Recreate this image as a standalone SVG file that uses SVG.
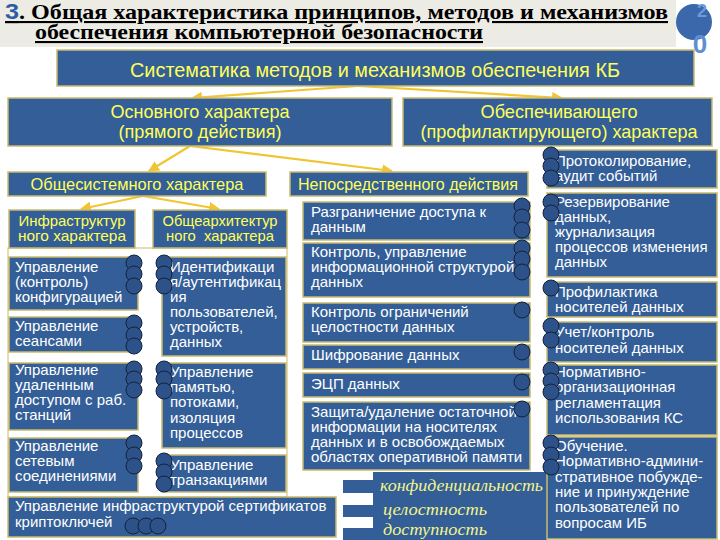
<svg xmlns="http://www.w3.org/2000/svg" width="720" height="540" viewBox="0 0 720 540">
<defs>
<marker id="ah" viewBox="0 0 10 10" refX="9" refY="5" markerWidth="5" markerHeight="5" orient="auto-start-reverse">
<path d="M0,0 L10,5 L0,10 z" fill="#f0c531"/>
</marker>
<style>
.box{fill:#335e97;stroke:#c9ba6e;stroke-width:1.5}
.hd{fill:#ffff59;font-family:"Liberation Sans Narrow","Liberation Sans",Arial,sans-serif}
.tx{fill:#ffffff;font-family:"Liberation Sans",Arial,sans-serif;font-size:15px}
.dot{fill:#2d5289;stroke:#15223a;stroke-width:1}
.con{stroke:#f0c531;stroke-width:2.2;fill:none;marker-end:url(#ah)}
.lg{fill:#f4f48a;font-family:"Liberation Serif","Times New Roman",serif;font-style:italic;font-size:16px}
</style>
</defs>
<rect x="0" y="0" width="720" height="540" fill="#ffffff"/>
<g id="title">
<rect x="0" y="0" width="676" height="47" fill="#ecebe4"/>
<text x="5" y="19" font-family="Liberation Serif,serif" font-weight="bold" font-size="21" fill="#000" text-decoration="underline" textLength="663" lengthAdjust="spacingAndGlyphs"><tspan fill="#2b5ca6" font-family="Liberation Sans,sans-serif" font-weight="900" font-size="22">3</tspan>. Общая характеристика принципов, методов и механизмов</text>
<text x="35" y="39" font-family="Liberation Serif,serif" font-weight="bold" font-size="21" fill="#000" text-decoration="underline" textLength="448" lengthAdjust="spacingAndGlyphs">обеспечения компьютерной безопасности</text>
</g>
<g id="badge">
<circle cx="694" cy="22" r="18" fill="#3a68aa"/>
<text x="702" y="17" font-family="Liberation Sans,sans-serif" font-weight="bold" font-size="18" fill="#6d9bd8" text-anchor="middle">2</text>
<text x="700" y="53" font-family="Liberation Sans,sans-serif" font-weight="bold" font-size="26" fill="#5e8fd2" text-anchor="middle">0</text>
</g>
<g id="connectors">
<line class="con" x1="358" y1="86" x2="192" y2="98"/>
<line class="con" x1="358" y1="86" x2="562" y2="98"/>
<line class="con" x1="190" y1="146" x2="149" y2="171"/>
<line class="con" x1="190" y1="146" x2="392" y2="171"/>
<line class="con" x1="143" y1="196" x2="81" y2="209"/>
<line class="con" x1="143" y1="196" x2="219" y2="209"/>
</g>
<g id="n-root">
<rect class="box" x="57" y="50" width="637" height="36"/>
<text class="hd" x="375" y="77" font-size="21" text-anchor="middle" textLength="490" lengthAdjust="spacingAndGlyphs">Систематика методов и механизмов обеспечения КБ</text>
</g>
<g id="n-main">
<rect class="box" x="8" y="98" width="384" height="48"/>
<text class="hd" x="200" y="118" font-size="19" text-anchor="middle" textLength="179" lengthAdjust="spacingAndGlyphs">Основного характера</text>
<text class="hd" x="200" y="138" font-size="19" text-anchor="middle" textLength="163" lengthAdjust="spacingAndGlyphs">(прямого действия)</text>
</g>
<g id="n-support">
<rect class="box" x="403" y="98" width="309" height="48"/>
<text class="hd" x="559" y="118" font-size="19" text-anchor="middle" textLength="157" lengthAdjust="spacingAndGlyphs">Обеспечивающего</text>
<text class="hd" x="559" y="138" font-size="19" text-anchor="middle" textLength="277" lengthAdjust="spacingAndGlyphs">(профилактирующего) характера</text>
</g>
<g id="n-system">
<rect class="box" x="8" y="172" width="258" height="24"/>
<text class="hd" x="137" y="190" font-size="17" text-anchor="middle" textLength="213" lengthAdjust="spacingAndGlyphs">Общесистемного характера</text>
</g>
<g id="n-direct">
<rect class="box" x="290" y="172" width="238" height="24"/>
<text class="hd" x="408" y="190" font-size="17" text-anchor="middle" textLength="220" lengthAdjust="spacingAndGlyphs">Непосредственного действия</text>
</g>
<rect x="8" y="248" width="279" height="249" fill="none" stroke="#c9ba6e" stroke-width="1"/>
<g id="n-infra">
<rect class="box" x="9" y="210" width="126" height="38"/>
<text class="hd" x="72" y="226" font-size="15" text-anchor="middle" font-family="Liberation Sans,sans-serif" textLength="107" lengthAdjust="spacingAndGlyphs">Инфраструктур</text>
<text class="hd" x="72" y="241" font-size="15" text-anchor="middle" font-family="Liberation Sans,sans-serif" textLength="108" lengthAdjust="spacingAndGlyphs">ного характера</text>
</g>
<g id="n-arch">
<rect class="box" x="153" y="210" width="134" height="38"/>
<text class="hd" x="220" y="226" font-size="15" text-anchor="middle" font-family="Liberation Sans,sans-serif" textLength="115" lengthAdjust="spacingAndGlyphs">Общеархитектур</text>
<text class="hd" x="220" y="241" font-size="15" text-anchor="middle" font-family="Liberation Sans,sans-serif" xml:space="preserve" textLength="108" lengthAdjust="spacingAndGlyphs">ного  характера</text>
</g>
<g id="n-config">
<rect class="box" x="9" y="257" width="129" height="53"/>
<text class="tx" x="15" y="272">Управление</text>
<text class="tx" x="15" y="287">(контроль)</text>
<text class="tx" x="15" y="302">конфигурацией</text>
<circle class="dot" cx="134" cy="263" r="8"/><circle class="dot" cx="134" cy="274" r="8"/><circle class="dot" cx="134" cy="286" r="8"/>
</g>
<g id="n-sessions">
<rect class="box" x="9" y="317" width="129" height="35"/>
<text class="tx" x="15" y="331">Управление</text>
<text class="tx" x="15" y="346">сеансами</text>
<circle class="dot" cx="134" cy="323" r="8"/><circle class="dot" cx="134" cy="335" r="8"/><circle class="dot" cx="134" cy="346" r="8"/>
</g>
<g id="n-remote">
<rect class="box" x="9" y="363" width="129" height="67"/>
<text class="tx" x="15" y="375">Управление</text>
<text class="tx" x="15" y="390">удаленным</text>
<text class="tx" x="15" y="405">доступом с раб.</text>
<text class="tx" x="15" y="420">станций</text>
<circle class="dot" cx="134" cy="369" r="8"/><circle class="dot" cx="134" cy="379" r="8"/><circle class="dot" cx="134" cy="390" r="8"/>
</g>
<g id="n-network">
<rect class="box" x="9" y="438" width="129" height="54"/>
<text class="tx" x="15" y="451">Управление</text>
<text class="tx" x="15" y="466">сетевым</text>
<text class="tx" x="15" y="481">соединениями</text>
<circle class="dot" cx="134" cy="443" r="8"/><circle class="dot" cx="134" cy="455" r="8"/><circle class="dot" cx="134" cy="466" r="8"/>
</g>
<g id="n-cert">
<rect class="box" x="8" y="497" width="328" height="40"/>
<text class="tx" x="15" y="511">Управление инфраструктурой сертификатов</text>
<text class="tx" x="15" y="527">криптоключей</text>
<circle class="dot" cx="133" cy="526" r="8"/><circle class="dot" cx="146" cy="526" r="8"/><circle class="dot" cx="158" cy="526" r="8"/>
</g>
<g id="n-ident">
<rect class="box" x="162" y="257" width="124" height="99"/>
<text class="tx" x="170" y="272">Идентификаци</text>
<text class="tx" x="170" y="287">я/аутентификац</text>
<text class="tx" x="170" y="302">ия</text>
<text class="tx" x="170" y="317">пользователей,</text>
<text class="tx" x="170" y="332">устройств,</text>
<text class="tx" x="170" y="347">данных</text>
<circle class="dot" cx="164" cy="263" r="8"/><circle class="dot" cx="164" cy="274" r="8"/><circle class="dot" cx="164" cy="286" r="8"/>
</g>
<g id="n-memory">
<rect class="box" x="162" y="363" width="124" height="85"/>
<text class="tx" x="170" y="377">Управление</text>
<text class="tx" x="170" y="392">памятью,</text>
<text class="tx" x="170" y="407">потоками,</text>
<text class="tx" x="170" y="423">изоляция</text>
<text class="tx" x="170" y="438">процессов</text>
<circle class="dot" cx="164" cy="369" r="8"/><circle class="dot" cx="164" cy="379" r="8"/><circle class="dot" cx="164" cy="391" r="8"/>
</g>
<g id="n-trans">
<rect class="box" x="162" y="455" width="124" height="37"/>
<text class="tx" x="170" y="470">Управление</text>
<text class="tx" x="170" y="485">транзакциями</text>
<circle class="dot" cx="164" cy="461" r="8"/><circle class="dot" cx="164" cy="472" r="8"/><circle class="dot" cx="164" cy="484" r="8"/>
</g>
<g id="n-access">
<rect class="box" x="303" y="202" width="227" height="38"/>
<text class="tx" x="311" y="217">Разграничение доступа к</text>
<text class="tx" x="311" y="232">данным</text>
<circle class="dot" cx="522" cy="206" r="8"/><circle class="dot" cx="522" cy="217" r="8"/><circle class="dot" cx="522" cy="230" r="8"/>
</g>
<g id="n-struct">
<rect class="box" x="303" y="243" width="227" height="54"/>
<text class="tx" x="311" y="257">Контроль, управление</text>
<text class="tx" x="311" y="272">информационной структурой</text>
<text class="tx" x="311" y="287">данных</text>
<circle class="dot" cx="522" cy="248" r="8"/><circle class="dot" cx="522" cy="259" r="8"/><circle class="dot" cx="522" cy="272" r="8"/>
</g>
<g id="n-integrity">
<rect class="box" x="303" y="303" width="227" height="39"/>
<text class="tx" x="311" y="317">Контроль ограничений</text>
<text class="tx" x="311" y="332">целостности данных</text>
<circle class="dot" cx="522" cy="310" r="8"/>
</g>
<g id="n-crypto">
<rect class="box" x="303" y="345" width="227" height="24"/>
<text class="tx" x="311" y="360">Шифрование данных</text>
<circle class="dot" cx="522" cy="352" r="8"/>
</g>
<g id="n-sign">
<rect class="box" x="303" y="373" width="227" height="24"/>
<text class="tx" x="311" y="389">ЭЦП данных</text>
<circle class="dot" cx="522" cy="382" r="8"/>
</g>
<g id="n-residual">
<rect class="box" x="303" y="402" width="227" height="68"/>
<text class="tx" x="311" y="417">Защита/удаление остаточной</text>
<text class="tx" x="311" y="432">информации на носителях</text>
<text class="tx" x="311" y="447">данных и в освобождаемых</text>
<text class="tx" x="311" y="462">областях оперативной памяти</text>
<circle class="dot" cx="522" cy="409" r="8"/>
</g>
<g id="n-legend">
<rect x="343" y="480" width="32" height="13" fill="#335e97"/>
<rect x="343" y="505" width="32" height="12" fill="#335e97"/>
<rect x="343" y="528" width="32" height="12" fill="#335e97"/>
<rect x="373" y="472" width="174" height="68" fill="#335e97"/>
<text class="lg" x="380" y="491" textLength="163" lengthAdjust="spacingAndGlyphs">конфиденциальность</text>
<text class="lg" x="383" y="515" textLength="104" lengthAdjust="spacingAndGlyphs">целостность</text>
<text class="lg" x="383" y="535" textLength="104" lengthAdjust="spacingAndGlyphs">доступность</text>
</g>
<g id="n-audit">
<rect class="box" x="547" y="150" width="170" height="38"/>
<text class="tx" x="555" y="166">Протоколирование,</text>
<text class="tx" x="555" y="181">аудит событий</text>
<circle class="dot" cx="551" cy="155" r="8"/><circle class="dot" cx="551" cy="166" r="8"/><circle class="dot" cx="551" cy="178" r="8"/>
</g>
<g id="n-backup">
<rect class="box" x="547" y="193" width="170" height="84"/>
<text class="tx" x="555" y="207">Резервирование</text>
<text class="tx" x="555" y="222">данных,</text>
<text class="tx" x="555" y="237">журнализация</text>
<text class="tx" x="555" y="252">процессов изменения</text>
<text class="tx" x="555" y="267">данных</text>
<circle class="dot" cx="551" cy="202" r="8"/><circle class="dot" cx="551" cy="213" r="8"/>
</g>
<g id="n-media">
<rect class="box" x="547" y="282" width="170" height="35"/>
<text class="tx" x="555" y="297">Профилактика</text>
<text class="tx" x="555" y="312">носителей данных</text>
<circle class="dot" cx="551" cy="288" r="8"/>
</g>
<g id="n-account">
<rect class="box" x="547" y="322" width="170" height="40"/>
<text class="tx" x="555" y="337">Учет/контроль</text>
<text class="tx" x="555" y="353">носителей данных</text>
<circle class="dot" cx="551" cy="326" r="8"/><circle class="dot" cx="551" cy="340" r="8"/>
</g>
<g id="n-regul">
<rect class="box" x="547" y="365" width="170" height="70"/>
<text class="tx" x="555" y="377">Нормативно-</text>
<text class="tx" x="555" y="392">организационная</text>
<text class="tx" x="555" y="408">регламентация</text>
<text class="tx" x="555" y="423">использования КС</text>
<circle class="dot" cx="551" cy="370" r="8"/><circle class="dot" cx="551" cy="381" r="8"/><circle class="dot" cx="551" cy="392" r="8"/>
</g>
<g id="n-training">
<rect class="box" x="547" y="437" width="170" height="102"/>
<text class="tx" x="555" y="451">Обучение.</text>
<text class="tx" x="555" y="466">Нормативно-админи-</text>
<text class="tx" x="555" y="482">стративное побужде-</text>
<text class="tx" x="555" y="497">ние и принуждение</text>
<text class="tx" x="555" y="512">пользователей по</text>
<text class="tx" x="555" y="528">вопросам ИБ</text>
<circle class="dot" cx="551" cy="443" r="8"/><circle class="dot" cx="551" cy="455" r="8"/><circle class="dot" cx="551" cy="467" r="8"/>
</g>
</svg>
